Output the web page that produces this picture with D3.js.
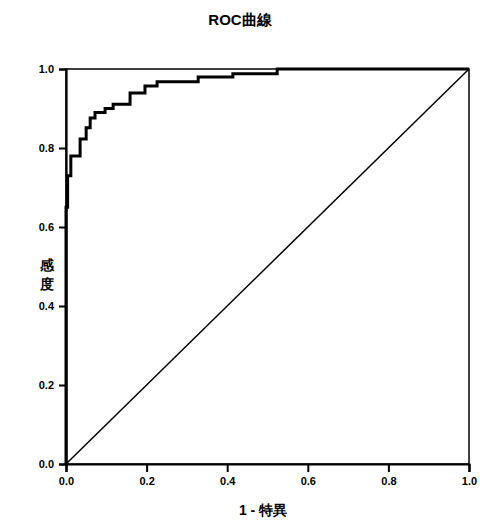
<!DOCTYPE html>
<html>
<head>
<meta charset="utf-8">
<script src="https://cdn.jsdelivr.net/npm/d3@7"></script>
<style>
  body { margin: 0; background: #fff; }
  svg { display: block; }
  text { font-family: "Liberation Sans", Arial, sans-serif; fill: #000; }
</style>
</head>
<body>
<div id="chart"></div>
<script>
// ROC step curve (1 - specificity, sensitivity)
const fpr = [0, 0, 0.004, 0.004, 0.012, 0.012, 0.035, 0.035, 0.05, 0.05, 0.06, 0.06, 0.072, 0.072,
             0.097, 0.097, 0.117, 0.117, 0.159, 0.159, 0.196, 0.196, 0.226, 0.226, 0.328, 0.328,
             0.414, 0.414, 0.524, 0.524, 1];
const tpr = [0, 0.65, 0.65, 0.73, 0.73, 0.78, 0.78, 0.823, 0.823, 0.851, 0.851, 0.876, 0.876, 0.89,
             0.89, 0.90, 0.90, 0.911, 0.911, 0.939, 0.939, 0.957, 0.957, 0.968, 0.968, 0.98,
             0.98, 0.988, 0.988, 1, 1];
const refLine = [0, 1];
const tickValues = [0, 0.2, 0.4, 0.6, 0.8, 1.0];

const W = 480, H = 530;
const margin = { top: 69, right: 11, bottom: 66, left: 66 };
const width = W - margin.left - margin.right;
const height = H - margin.top - margin.bottom;

const svg = d3.select("#chart").append("svg")
              .attr("width", W)
              .attr("height", H);

svg.append("rect").attr("width", W).attr("height", H).attr("fill", "#fff");

const x = d3.scaleLinear().domain([0, 1]).range([0, width]);
const y = d3.scaleLinear().domain([0, 1]).range([height, 0]);

const g = svg.append("g")
             .attr("transform", `translate(${margin.left},${margin.top})`);

// thin frame top/right
g.append("rect")
 .attr("width", width).attr("height", height)
 .attr("fill", "none").attr("stroke", "#000").attr("stroke-width", 1.5);

// diagonal reference
g.append("line")
 .attr("x1", x(refLine[0])).attr("y1", y(refLine[0]))
 .attr("x2", x(refLine[1])).attr("y2", y(refLine[1]))
 .attr("stroke", "#000").attr("stroke-width", 1.5);

// ROC curve
const pts = fpr.map((d, i) => [d, tpr[i]]);
g.append("path")
 .datum(pts)
 .attr("fill", "none")
 .attr("stroke", "#000")
 .attr("stroke-width", 3)
 .attr("stroke-linejoin", "miter")
 .attr("d", d3.line().x(d => x(d[0])).y(d => y(d[1])));

// axes
const fmt = d3.format(".1f");
const xAxis = g.append("g")
 .attr("transform", `translate(0,${height})`)
 .call(d3.axisBottom(x).tickValues(tickValues).tickFormat(fmt).tickSize(8).tickPadding(5));
const yAxis = g.append("g")
 .call(d3.axisLeft(y).tickValues(tickValues).tickFormat(fmt).tickSize(7).tickPadding(5));

[xAxis, yAxis].forEach(a => {
  a.select(".domain").attr("stroke", "#000").attr("stroke-width", 2.2);
  a.selectAll(".tick line").attr("stroke", "#000").attr("stroke-width", 2);
  a.selectAll("text")
   .style("font-size", "11px")
   .style("font-weight", "bold")
   .attr("fill", "#000");
});

// title
svg.append("text")
   .attr("x", 240).attr("y", 25)
   .attr("text-anchor", "middle")
   .style("font-size", "15px").style("font-weight", "bold")
   .text("ROC曲線");

// x label
svg.append("text")
   .attr("x", 263).attr("y", 515)
   .attr("text-anchor", "middle")
   .style("font-size", "14px").style("font-weight", "bold")
   .text("1 - 特異");

// y label, stacked characters
const yLab = svg.append("text")
   .attr("text-anchor", "middle")
   .style("font-size", "14px").style("font-weight", "bold");
["感", "度"].forEach((c, i) => {
  yLab.append("tspan").attr("x", 47).attr("y", 270 + i * 19).text(c);
});
</script>
</body>
</html>
